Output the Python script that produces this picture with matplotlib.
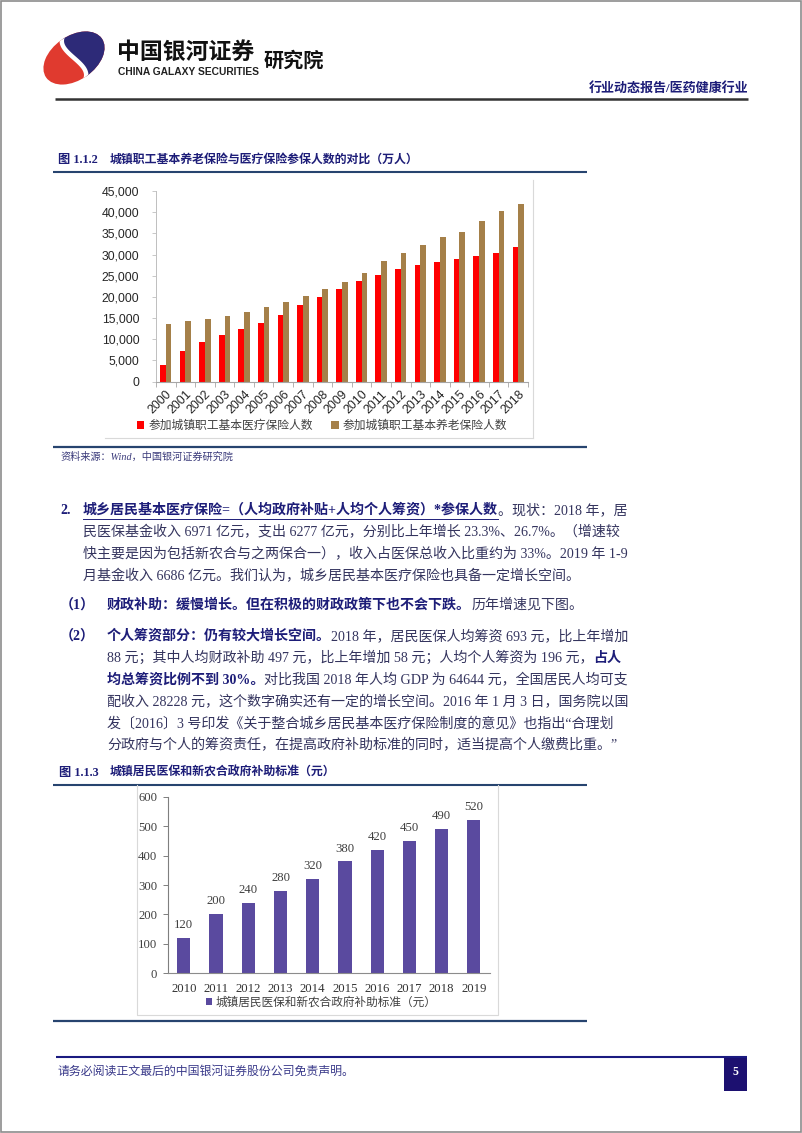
import numpy as np
import matplotlib
matplotlib.use('Agg')
import matplotlib.pyplot as plt
from matplotlib.patches import Ellipse, Rectangle, Polygon
from matplotlib.ticker import FuncFormatter

# ---------------- data ----------------
years1 = [str(y) for y in range(2000, 2019)]
medical = [3787, 7286, 9401, 10902, 12404, 13783, 15732, 18020, 19996, 21937,
           23735, 25227, 26486, 27443, 28296, 28893, 29532, 30323, 31681]
pension = [13617, 14183, 14737, 15506, 16353, 17487, 18766, 20137, 21891, 23550,
           25707, 28391, 30427, 32218, 34124, 35361, 37930, 40293, 41902]
series1_names = ['参加城镇职工基本医疗保险人数', '参加城镇职工基本养老保险人数']
yticks1 = list(range(0, 45001, 5000))

years2 = [str(y) for y in range(2010, 2020)]
subsidy = [120, 200, 240, 280, 320, 380, 420, 450, 490, 520]
series2_name = '城镇居民医保和新农合政府补助标准（元）'
yticks2 = list(range(0, 601, 100))

title1 = '城镇职工基本养老保险与医疗保险参保人数的对比（万人）'
title2 = '城镇居民医保和新农合政府补助标准（元）'
source1 = '资料来源：Wind，中国银河证券研究院'

# ---------------- setup ----------------
W, H = 802, 1133
CJK = 'Noto Sans CJK SC'
SERIF = ['Liberation Serif', CJK]
plt.rcParams['font.family'] = [CJK, 'DejaVu Sans']

NAVY = '#1d1d78'
BODY = '#34345e'
LINE = '#27446f'

fig = plt.figure(figsize=(W / 100, H / 100), dpi=100)
page = fig.add_axes([0, 0, 1, 1])
page.set_xlim(0, W)
page.set_ylim(H, 0)
page.axis('off')
renderer = fig.canvas.get_renderer()


def box(x0, y0, x1, y1):
    return [x0 / W, 1 - y1 / H, (x1 - x0) / W, (y1 - y0) / H]


def hline(y, x0, x1, color, lw):
    page.plot([x0, x1], [y, y], color=color, lw=lw, solid_capstyle='butt')


# outer frame
page.add_patch(Rectangle((0.5, 0.5), W - 1.5, H - 1.5, fill=False, ec='#8c8c8c', lw=1.2))

# ---------------- header ----------------
cx, cy = 74, 58
ell = Ellipse((cx, cy), 68, 44, angle=-35, fc='#e03a2f', ec='none')
page.add_patch(ell)
tt = np.linspace(-1, 1, 60)
sx = cx + 6 * tt + 9 * np.sin(np.pi * tt)
sy = cy + 30 * tt
blue = Polygon(list(zip(sx, sy)) + [(cx + 60, cy + 40), (cx + 60, cy - 40)],
               closed=True, fc='#2d2a78', ec='none')
page.add_patch(blue)
blue.set_clip_path(ell)
ln, = page.plot(sx, sy, color='white', lw=3.2)
ln.set_clip_path(ell)

page.text(117, 52, '中国银河证券', fontsize=16.5, fontweight='bold', color='#111111',
          family=[CJK], va='center', ha='left')
page.text(118, 72, 'CHINA GALAXY SECURITIES', fontsize=7.4, fontweight='bold',
          color='#222222', family=['Liberation Sans'], va='center', ha='left')
page.text(264, 60, '研究院', fontsize=14.5, fontweight='bold', color='#111111',
          family=[CJK], va='center', ha='left')
page.text(748, 88, '行业动态报告/医药健康行业', fontsize=9.4, fontweight='bold',
          color=NAVY, family=SERIF, va='center', ha='right')
hline(98.5, 55, 748, '#333333', 1.8)


# ---------------- text helper ----------------
def runs(x, y, segs, size=10.1):
    for s, bold, ul in segs:
        t = page.text(x, y, s, fontsize=size, family=SERIF,
                      fontweight='bold' if bold else 'normal',
                      color=NAVY if bold else BODY, va='center', ha='left')
        bb = t.get_window_extent(renderer)
        if ul:
            page.plot([x, x + bb.width], [y + 8.5, y + 8.5], color=NAVY, lw=0.7)
        x += bb.width
    return x


# ---------------- chart 1 ----------------
page.text(58, 160, '图 1.1.2', fontsize=8.8, fontweight='bold', color=NAVY,
          family=SERIF, va='center', ha='left')
page.text(110, 160, title1, fontsize=8.6, fontweight='bold', color=NAVY,
          family=SERIF, va='center', ha='left')
hline(172, 53, 587, LINE, 1.5)
page.plot([533, 533], [180, 438], color='#d9d9d9', lw=0.8)
page.plot([105, 533], [438, 438], color='#d9d9d9', lw=0.8)

ax1 = fig.add_axes(box(156, 191, 528, 381.5))
x1 = np.arange(len(years1))
bw = 0.29
ax1.bar(x1 - bw / 2, medical, bw, color='#ff0000', label=series1_names[0], zorder=2)
ax1.bar(x1 + bw / 2, pension, bw, color='#a58049', label=series1_names[1], zorder=2)
ax1.set_xlim(-0.5, len(years1) - 0.5)
ax1.set_ylim(0, 45000)
ax1.set_yticks(yticks1)
ax1.yaxis.set_major_formatter(FuncFormatter(lambda v, p: f'{int(v):,}'))
ax1.set_xticks(x1)
ax1.set_xticklabels(years1, rotation=45, ha='right', va='top', rotation_mode='anchor')
ax1.set_xticks(np.arange(-0.5, len(years1), 1), minor=True)
ax1.tick_params(axis='x', which='major', length=0, pad=5, labelsize=8.9,
                labelcolor='#262626')
ax1.tick_params(axis='x', which='minor', length=3.5, color='#a6a6a6', width=0.6)
ax1.tick_params(axis='y', length=3, color='#bfbfbf', width=0.6, labelsize=8.8,
                labelcolor='#262626', pad=9)
for lab in ax1.get_xticklabels() + ax1.get_yticklabels():
    lab.set_family(['Liberation Sans'])
for side in ['top', 'right']:
    ax1.spines[side].set_visible(False)
ax1.spines['left'].set_color('#bfbfbf')
ax1.spines['left'].set_linewidth(0.7)
ax1.spines['bottom'].set_color('#a6a6a6')
ax1.spines['bottom'].set_linewidth(0.8)
ax1.patch.set_alpha(0)
leg1 = ax1.legend(loc='center', bbox_to_anchor=(322 / W, 1 - 426 / H),
                  bbox_transform=fig.transFigure, ncol=2, frameon=False,
                  fontsize=8.5, handlelength=0.6, handleheight=0.6,
                  handletextpad=0.35, columnspacing=1.6, borderpad=0)
for t in leg1.get_texts():
    t.set_color('#404040')
    t.set_family(SERIF)

hline(446.5, 53, 587, LINE, 1.6)
page.text(60, 457, source1, fontsize=7.3, style='italic', color='#3a3a7a',
          family=SERIF, va='center', ha='left')

# ---------------- body text ----------------
runs(60, 510, [('2.', True, False)])
runs(83, 510, [('城乡居民基本医疗保险=（人均政府补贴+人均个人筹资）*参保人数', True, True),
               ('。现状：2018 年，居', False, False)])
runs(83, 532, [('民医保基金收入 6971 亿元，支出 6277 亿元，分别比上年增长 23.3%、26.7%。（增速较', False, False)])
runs(83, 554, [('快主要是因为包括新农合与之两保合一），收入占医保总收入比重约为 33%。2019 年 1-9', False, False)])
runs(83, 576, [('月基金收入 6686 亿元。我们认为，城乡居民基本医疗保险也具备一定增长空间。', False, False)])
runs(60, 605, [('（1）', True, False)])
runs(107, 605, [('财政补助：缓慢增长。但在积极的财政政策下也不会下跌。', True, False),
                ('历年增速见下图。', False, False)])
runs(60, 636, [('（2）', True, False)])
runs(107, 636, [('个人筹资部分：仍有较大增长空间。', True, False),
                ('2018 年，居民医保人均筹资 693 元，比上年增加', False, False)])
runs(107, 658, [('88 元；其中人均财政补助 497 元，比上年增加 58 元；人均个人筹资为 196 元，', False, False),
                ('占人', True, False)])
runs(107, 680, [('均总筹资比例不到 30%。', True, False),
                ('对比我国 2018 年人均 GDP 为 64644 元，全国居民人均可支', False, False)])
runs(107, 702, [('配收入 28228 元，这个数字确实还有一定的增长空间。2016 年 1 月 3 日，国务院以国', False, False)])
runs(107, 724, [('发〔2016〕3 号印发《关于整合城乡居民基本医疗保险制度的意见》也指出“合理划', False, False)])
runs(107, 745, [('分政府与个人的筹资责任，在提高政府补助标准的同时，适当提高个人缴费比重。”', False, False)])

# ---------------- chart 2 ----------------
page.text(59, 773, '图 1.1.3', fontsize=8.8, fontweight='bold', color=NAVY,
          family=SERIF, va='center', ha='left')
page.text(110, 773, title2, fontsize=8.6, fontweight='bold', color=NAVY,
          family=SERIF, va='center', ha='left')
hline(784.5, 53, 587, LINE, 1.5)
page.plot([137, 137, 498, 498], [785, 1015, 1015, 785], color='#d9d9d9', lw=0.8)

ax2 = fig.add_axes(box(167.7, 796.7, 490, 973.3))
x2 = np.arange(len(years2))
bars = ax2.bar(x2, subsidy, 0.41, color='#5a4a9f', label=series2_name, zorder=2)
ax2.set_xlim(-0.5, len(years2) - 0.5)
ax2.set_ylim(0, 600)
ax2.set_yticks(yticks2)
ax2.set_xticks(x2)
ax2.set_xticklabels(years2)
for b, v in zip(bars, subsidy):
    ax2.annotate(f'{v}', (b.get_x() + b.get_width() / 2, v), xytext=(0, 5),
                 textcoords='offset points', ha='center', va='bottom',
                 fontsize=9.2, color='#404040', family=['Liberation Serif'])
ax2.tick_params(axis='x', length=0, pad=7, labelsize=9.2, labelcolor='#333333')
ax2.tick_params(axis='y', length=3.5, color='#7f7f7f', width=0.7, labelsize=9.2,
                labelcolor='#404040', pad=4)
for lab in ax2.get_xticklabels() + ax2.get_yticklabels():
    lab.set_family(['Liberation Serif'])
for side in ['top', 'right']:
    ax2.spines[side].set_visible(False)
ax2.spines['left'].set_color('#7f7f7f')
ax2.spines['left'].set_linewidth(0.8)
ax2.spines['bottom'].set_color('#8c8c8c')
ax2.spines['bottom'].set_linewidth(0.8)
ax2.patch.set_alpha(0)
leg2 = ax2.legend(loc='center', bbox_to_anchor=(321 / W, 1 - 1003 / H),
                  bbox_transform=fig.transFigure, ncol=1, frameon=False,
                  fontsize=8.4, handlelength=0.55, handleheight=0.55,
                  handletextpad=0.3, borderpad=0)
for t in leg2.get_texts():
    t.set_color('#404040')
    t.set_family(SERIF)

hline(1020.5, 53, 587, LINE, 1.6)

# ---------------- footer ----------------
hline(1057, 56, 747, '#1a1a80', 1.5)
page.add_patch(Rectangle((724, 1057), 23, 34, fc='#1c1070', ec='none'))
page.text(735.5, 1072, '5', fontsize=8.5, fontweight='bold', color='white',
          family=['Liberation Serif'], va='center', ha='center')
page.text(58, 1073, '请务必阅读正文最后的中国银河证券股份公司免责声明。', fontsize=8.6,
          color='#3a3a8a', family=SERIF, va='center', ha='left')

fig.savefig('out.png', dpi=100)
